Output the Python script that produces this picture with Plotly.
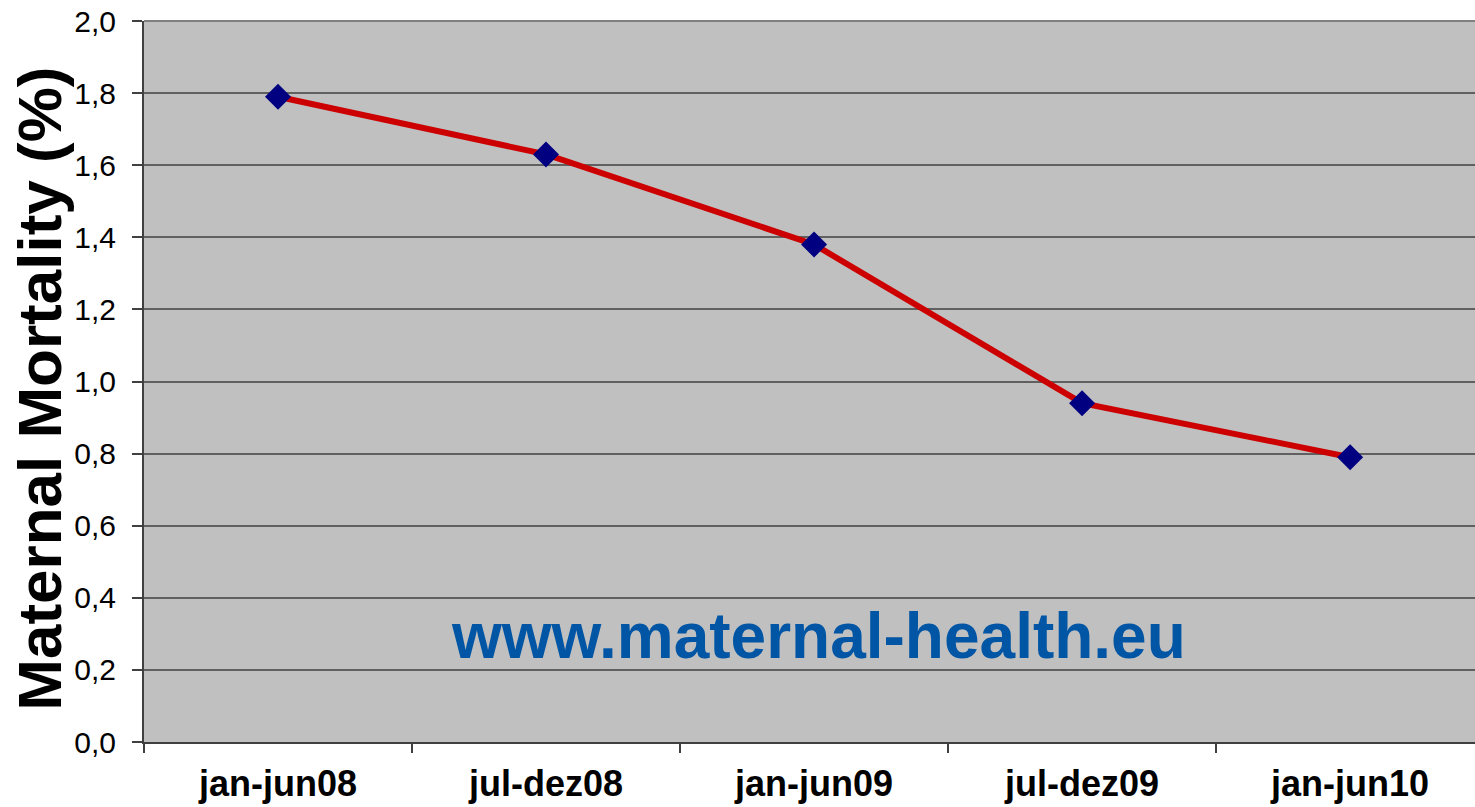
import plotly.graph_objects as go

categories = ["jan-jun08", "jul-dez08", "jan-jun09", "jul-dez09", "jan-jun10"]
mortality = [1.79, 1.63, 1.38, 0.94, 0.79]
y_ticks = [0.0, 0.2, 0.4, 0.6, 0.8, 1.0, 1.2, 1.4, 1.6, 1.8, 2.0]

font_family = "Arial, Liberation Sans, sans-serif"

fig = go.Figure()
fig.add_trace(go.Scatter(
    x=categories, y=mortality, mode="lines+markers",
    line=dict(color="#CC0000", width=6),
    marker=dict(symbol="diamond", size=20, color="#000080",
                line=dict(width=0)),
    showlegend=False,
))

fig.update_layout(
    width=1475, height=807,
    margin=dict(l=144, r=0, t=21, b=65),
    paper_bgcolor="white",
    plot_bgcolor="#C0C0C0",
    separators=",.",
    font=dict(family=font_family, color="black"),
    xaxis=dict(
        type="category",
        range=[-0.5, 4.466],
        tickson="boundaries",
        ticks="outside", ticklen=9, tickcolor="#404040", tickwidth=1.5,
        showline=True, linecolor="#404040", linewidth=2,
        showgrid=False,
        tickfont=dict(size=36, family=font_family, weight="bold"),
        ticklabelstandoff=9,
        automargin=False,
    ),
    yaxis=dict(
        range=[0, 2.0],
        tickvals=y_ticks,
        tickformat=".1f",
        ticks="outside", ticklen=10, tickcolor="#404040", tickwidth=1.5,
        showline=True, linecolor="#404040", linewidth=2,
        showgrid=True, gridcolor="#606060", gridwidth=2,
        zeroline=False,
        tickfont=dict(size=30, family=font_family),
        ticklabelstandoff=10,
        automargin=False,
    ),
    annotations=[
        dict(text="Maternal Mortality (%)", textangle=-90,
             xref="paper", yref="paper", x=0, y=0.49,
             xanchor="center", yanchor="middle", xshift=-104,
             showarrow=False,
             font=dict(size=62, family=font_family, weight="bold", color="black")),
        dict(text="www.maternal-health.eu",
             xref="paper", yref="paper", x=0.507, y=0.147,
             xanchor="center", yanchor="middle", showarrow=False,
             font=dict(size=64, family=font_family, weight="bold", color="#0055A5")),
    ],
)

fig.add_shape(type="line", xref="paper", yref="paper", x0=0, x1=1, y0=1, y1=1,
              line=dict(color="#808080", width=2))

fig.write_html("out.html", config={"displayModeBar": False},
               post_script="document.body.style.margin='0';document.body.style.overflow='hidden';")
